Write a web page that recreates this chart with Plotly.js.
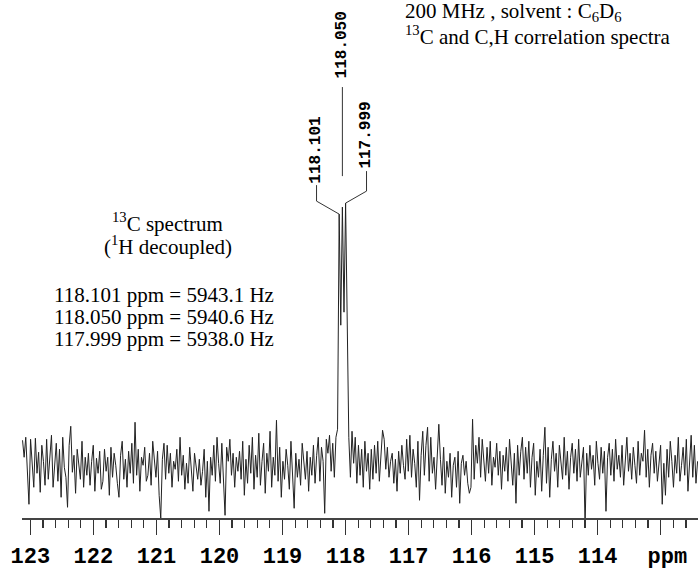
<!DOCTYPE html>
<html><head><meta charset="utf-8">
<script src="https://cdn.plot.ly/plotly-3.0.1.min.js"></script>
<style>html,body{margin:0;padding:0;background:#fff}#chart{width:698px;height:570px}</style>
</head><body><div id="chart"></div>
<script>
// Spectrum: first point ppm, point spacing (ppm), intensities
const startPpm = 123.1245;
const stepPpm = -0.0255;
const intensity = [
 27, 10, 30, -8, -37, 28, 2, -20, 29, -6, 15, -25, 22, 6, -18, 28, -12, 8, 32, -20,
 -2, 24, -14, 18, -30, 30, 0, -10, -40, 22, 41, -5, 12, -26, 18, 4, -12, 26, -20, 10,
 -8, 14, -18, 6, 22, -24, 9, -6, 16, -22, -14, 18, -4, 10, -28, 20, -10, 14, 2, -16,
 -30, 12, 26, -12, 8, -20, 16, -6, 24, -16, 45, -8, 18, -24, 10, 2, 20, -14, -8, 14,
 -18, 26, 4, -10, 16, -28, -51, 8, 24, -12, 22, -6, 14, -20, 6, -2, 18, -14, 30, -8,
 12, -22, 4, -16, 20, -6, -24, 14, 2, -12, 8, -18, -4, 18, -30, 6, -44, 10, -8, 22,
 -14, 30, 4, -16, 24, -10, -48, 20, 6, 28, -8, 14, -20, 10, -4, 16, -12, 26, -28, 8,
 -16, 22, -6, 30, -22, 12, -10, 34, -18, 6, 24, -26, 14, -4, 36, -20, 10, -8, 47, -14,
 20, -30, 6, -12, 18, 2, -22, 26, -6, -41, 14, -10, 8, -18, 24, 4, -12, 16, -24, 10,
 -8, 22, -16, 12, 30, -14, 20, 6, -46, 28, 14, 32, -4, 24, -10, 30, 38, 253, 142, 260,
 155, 264, 124, 30, -10, 36, 4, 30, -16, 22, -8, 18, -20, 26, -4, 14, -22, 18, -12, 22,
 -6, 26, -14, 10, 37, 28, -2, 20, -10, 6, 14, -16, 8, -24, 16, -6, 22, 2, -12, 28,
 -4, 32, -10, 18, 4, -20, 26, -33, 12, 36, -8, 22, 40, -14, 30, -6, 10, -22, 18, 43,
 8, -18, 20, -26, 6, -10, 14, -30, 2, 10, -20, 16, -36, 4, 12, -8, 6, -16, -26, -20,
 48, -12, 22, 4, 30, -10, 28, 8, -14, 20, -6, 26, -18, 10, 0, 24, -8, 16, -22, 12,
 -4, 20, -14, 28, 2, -18, 14, -36, 22, -8, 16, 30, -12, 20, -6, 26, -20, 10, 24, -28,
 6, -10, 18, -24, 12, 40, -16, 20, -30, 8, 26, -4, 14, -20, 22, 2, -12, 30, -8, 16,
 -22, 10, 24, -6, 18, -14, 28, -10, 6, 20, -58, 14, -8, 22, -2, 12, -18, 26, 4, -12,
 20, -6, 16, -44, 10, 24, -8, 18, -14, 28, -2, 12, -10, 22, -18, 6, 30, -4, 14, -12,
 20, 2, -16, 26, -8, 14, 6, 37, -10, 18, -20, 12, 24, -6, 16, -14, 8, 22, -37, 4,
 -28, 18, -10, 26, 6, -20, 12, -6, 30, -14, 2, 20, -8, 28, -24, 10, 32, -10, 22, -16, 6
];
// Peaks
const peakPpm = [118.101, 118.050, 117.999];
const peakHeight = [253, 260, 264];
const peakLabels = ['118.101', '118.050', '117.999'];
// Axis ticks
const tickValues = [123, 122, 121, 120, 119, 118, 117, 116, 115, 114, 113];
const tickLabels = ['123','122','121','120','119','118','117','116','115','114','\u00a0ppm'];
// Texts
const headerLines = ['200 MHz , solvent : C<sub>6</sub>D<sub>6</sub>', '<sup>13</sup>C and C,H correlation spectra'];
const spectrumLines = ['<sup>13</sup>C spectrum', '(<sup>1</sup>H decoupled)'];
const freqLines = ['118.101 ppm = 5943.1 Hz', '118.050 ppm = 5940.6 Hz', '117.999 ppm = 5938.0 Hz'];

const serif = {family: '"Liberation Serif", "Times New Roman", serif', size: 21, color: '#000'};
const mono = {family: '"Liberation Mono", "Courier New", monospace', color: '#000', weight: 'bold'};

const trace = {
  type: 'scatter', mode: 'lines',
  x0: startPpm, dx: stepPpm, y: intensity,
  line: {color: '#222', width: 1},
  hoverinfo: 'x+y'
};

const annotations = [];
const shapes = [];
// peak labels: label centres and connector bends (ppm, intensity)
const labelPos = [
  {x: 118.46, y: 317, bend: 266, top: 282},
  {x: 118.05, y: 422, bend: null, top: 380},
  {x: 117.667, y: 332, bend: 276, top: 296}
];
peakPpm.forEach((p, i) => {
  const L = labelPos[i];
  annotations.push({x: L.x, y: L.y, xref: 'x', yref: 'y', text: peakLabels[i], showarrow: false,
    textangle: -90, font: Object.assign({size: 16}, mono), xanchor: 'center', yanchor: 'middle'});
  let path;
  if (L.bend === null) {
    path = `M ${p},${L.top} L ${p},${peakHeight[i] + 31}`;
  } else {
    path = `M ${L.x},${L.top} L ${L.x},${L.bend} L ${p},${peakHeight[i]}`;
  }
  shapes.push({type: 'path', xref: 'x', yref: 'y', path: path, line: {color: '#333', width: 1}});
});

headerLines.forEach((t, i) => annotations.push({x: 117.09, y: 455 - i * 23, xref: 'x', yref: 'y', text: t,
  showarrow: false, xanchor: 'left', yanchor: 'middle', font: serif}));
spectrumLines.forEach((t, i) => annotations.push({x: 120.82, y: 245 - i * 23, xref: 'x', yref: 'y', text: t,
  showarrow: false, xanchor: 'center', yanchor: 'middle', font: serif}));
freqLines.forEach((t, i) => annotations.push({x: 122.662, y: 172 - i * 22, xref: 'x', yref: 'y', text: t,
  showarrow: false, xanchor: 'left', yanchor: 'middle', font: serif}));

const layout = {
  width: 698, height: 570,
  margin: {l: 22, r: 0, t: 0, b: 52.3},
  paper_bgcolor: '#fff', plot_bgcolor: '#fff',
  showlegend: false,
  xaxis: {
    range: [123.133, 112.408], showgrid: false, zeroline: false,
    showline: true, linecolor: '#444', linewidth: 1.5,
    tickmode: 'array', tickvals: tickValues, ticktext: tickLabels,
    ticks: 'outside', ticklen: 15, tickwidth: 1.5, tickcolor: '#333',
    ticklabelstandoff: 2,
    tickfont: Object.assign({size: 22}, mono),
    minor: {dtick: 0.2, tick0: 113, ticks: 'outside', ticklen: 8, tickwidth: 1.2, tickcolor: '#333', showgrid: false}
  },
  yaxis: {range: [-50.7, 467], visible: false, fixedrange: true},
  annotations: annotations,
  shapes: shapes
};
Plotly.newPlot('chart', [trace], layout, {displayModeBar: false, staticPlot: true});
</script>
</body></html>
